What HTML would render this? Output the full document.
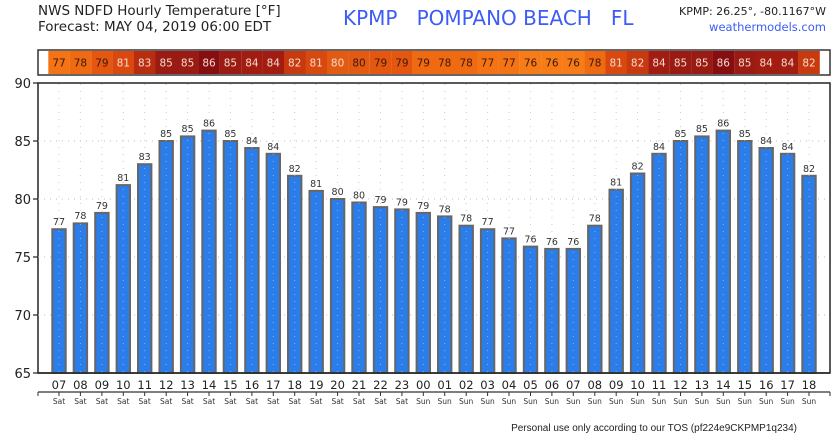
<!DOCTYPE html>
<html><head><meta charset="utf-8"><style>
html,body{margin:0;padding:0;background:#fff;}
svg{display:block;font-family:"DejaVu Sans","Liberation Sans",sans-serif;}
</style></head><body>
<svg width="838" height="436" viewBox="0 0 838 436" xmlns="http://www.w3.org/2000/svg">
<text x="38" y="15" font-size="13.5" fill="#222">NWS NDFD Hourly Temperature [°F]</text>
<text x="38" y="31" font-size="13.5" fill="#222">Forecast: MAY 04, 2019 06:00 EDT</text>
<text x="343" y="25" font-size="20" fill="#3d5cf5" xml:space="preserve">KPMP   POMPANO BEACH   FL</text>
<text x="826" y="15" font-size="11" fill="#222" text-anchor="end">KPMP: 26.25°, -80.1167°W</text>
<text x="826" y="31" font-size="11.5" fill="#3d5cf5" text-anchor="end">weathermodels.com</text>

<rect x="38" y="50" width="792" height="25" fill="#fff" stroke="#333" stroke-width="1.5"/>
<g font-size="10.5" text-anchor="middle">
<g id="cells">
<rect x="48.3" y="51" width="21.5" height="23" fill="#f47315"/>
<rect x="69.7" y="51" width="21.5" height="23" fill="#f06a12"/>
<rect x="91.2" y="51" width="21.5" height="23" fill="#e5560f"/>
<rect x="112.6" y="51" width="21.5" height="23" fill="#d9480f"/>
<rect x="134.0" y="51" width="21.5" height="23" fill="#b82c10"/>
<rect x="155.5" y="51" width="21.5" height="23" fill="#9a1a14"/>
<rect x="176.9" y="51" width="21.5" height="23" fill="#9a1a14"/>
<rect x="198.3" y="51" width="21.5" height="23" fill="#860d10"/>
<rect x="219.7" y="51" width="21.5" height="23" fill="#9a1a14"/>
<rect x="241.2" y="51" width="21.5" height="23" fill="#a31c12"/>
<rect x="262.6" y="51" width="21.5" height="23" fill="#a31c12"/>
<rect x="284.0" y="51" width="21.5" height="23" fill="#c8390f"/>
<rect x="305.5" y="51" width="21.5" height="23" fill="#d9480f"/>
<rect x="326.9" y="51" width="21.5" height="23" fill="#e35a12"/>
<rect x="348.3" y="51" width="21.5" height="23" fill="#e35a12"/>
<rect x="369.8" y="51" width="21.5" height="23" fill="#e5560f"/>
<rect x="391.2" y="51" width="21.5" height="23" fill="#e5560f"/>
<rect x="412.6" y="51" width="21.5" height="23" fill="#f06a12"/>
<rect x="434.0" y="51" width="21.5" height="23" fill="#f06a12"/>
<rect x="455.5" y="51" width="21.5" height="23" fill="#f06a12"/>
<rect x="476.9" y="51" width="21.5" height="23" fill="#f47315"/>
<rect x="498.3" y="51" width="21.5" height="23" fill="#f47315"/>
<rect x="519.8" y="51" width="21.5" height="23" fill="#f77b16"/>
<rect x="541.2" y="51" width="21.5" height="23" fill="#f77b16"/>
<rect x="562.6" y="51" width="21.5" height="23" fill="#f77b16"/>
<rect x="584.1" y="51" width="21.5" height="23" fill="#f06a12"/>
<rect x="605.5" y="51" width="21.5" height="23" fill="#d9480f"/>
<rect x="626.9" y="51" width="21.5" height="23" fill="#c8390f"/>
<rect x="648.3" y="51" width="21.5" height="23" fill="#a31c12"/>
<rect x="669.8" y="51" width="21.5" height="23" fill="#9a1a14"/>
<rect x="691.2" y="51" width="21.5" height="23" fill="#9a1a14"/>
<rect x="712.6" y="51" width="21.5" height="23" fill="#860d10"/>
<rect x="734.1" y="51" width="21.5" height="23" fill="#9a1a14"/>
<rect x="755.5" y="51" width="21.5" height="23" fill="#a31c12"/>
<rect x="776.9" y="51" width="21.5" height="23" fill="#a31c12"/>
<rect x="798.3" y="51" width="21.5" height="23" fill="#c8390f"/>
</g>
<g fill="#3a1a0a">
<text x="59.0" y="66.5">77</text><text x="80.4" y="66.5">78</text><text x="101.9" y="66.5">79</text>
<text x="337.6" y="66.5" fill="#f4dccc">80</text><text x="359.0" y="66.5">80</text><text x="380.5" y="66.5">79</text><text x="401.9" y="66.5">79</text>
<text x="423.3" y="66.5">79</text><text x="444.7" y="66.5">78</text><text x="466.2" y="66.5">78</text><text x="487.6" y="66.5">77</text>
<text x="509.0" y="66.5">77</text><text x="530.5" y="66.5">76</text><text x="551.9" y="66.5">76</text><text x="573.3" y="66.5">76</text><text x="594.8" y="66.5">78</text>
</g>
<g fill="#f4dccc">
<text x="123.3" y="66.5">81</text><text x="144.7" y="66.5">83</text><text x="166.2" y="66.5">85</text><text x="187.6" y="66.5">85</text>
<text x="209.0" y="66.5">86</text><text x="230.4" y="66.5">85</text><text x="251.9" y="66.5">84</text><text x="273.3" y="66.5">84</text>
<text x="294.7" y="66.5">82</text><text x="316.2" y="66.5">81</text>
<text x="616.2" y="66.5">81</text><text x="637.6" y="66.5">82</text><text x="659.0" y="66.5">84</text><text x="680.5" y="66.5">85</text>
<text x="701.9" y="66.5">85</text><text x="723.3" y="66.5">86</text><text x="744.8" y="66.5">85</text><text x="766.2" y="66.5">84</text>
<text x="787.6" y="66.5">84</text><text x="809.0" y="66.5">82</text>
</g>
</g>

<!-- plot -->
<rect x="38" y="83" width="792" height="290" fill="#fff" stroke="#222" stroke-width="1.5"/>
<g stroke="#bbb" stroke-width="1" stroke-dasharray="1,5">
<line x1="38" x2="830" y1="141" y2="141"/><line x1="38" x2="830" y1="199" y2="199"/>
<line x1="38" x2="830" y1="257" y2="257"/><line x1="38" x2="830" y1="315" y2="315"/>
</g>
<g stroke="#ccc" stroke-width="1" stroke-dasharray="1,6">
<path d="M59,84V372M80.4,84V372M101.9,84V372M123.3,84V372M144.7,84V372M166.2,84V372M187.6,84V372M209,84V372M230.4,84V372M251.9,84V372M273.3,84V372M294.7,84V372M316.2,84V372M337.6,84V372M359,84V372M380.5,84V372M401.9,84V372M423.3,84V372M444.7,84V372M466.2,84V372M487.6,84V372M509,84V372M530.5,84V372M551.9,84V372M573.3,84V372M594.8,84V372M616.2,84V372M637.6,84V372M659,84V372M680.5,84V372M701.9,84V372M723.3,84V372M744.8,84V372M766.2,84V372M787.6,84V372M809,84V372"/>
</g>
<g fill="#2b7de9" stroke="#666" stroke-width="2">
<rect x="52.3" y="229.2" width="13.4" height="143.8"/>
<rect x="73.7" y="223.4" width="13.4" height="149.6"/>
<rect x="95.2" y="212.9" width="13.4" height="160.1"/>
<rect x="116.6" y="185.1" width="13.4" height="187.9"/>
<rect x="138.0" y="164.2" width="13.4" height="208.8"/>
<rect x="159.5" y="141.0" width="13.4" height="232.0"/>
<rect x="180.9" y="136.4" width="13.4" height="236.6"/>
<rect x="202.3" y="130.6" width="13.4" height="242.4"/>
<rect x="223.7" y="141.0" width="13.4" height="232.0"/>
<rect x="245.2" y="148.0" width="13.4" height="225.0"/>
<rect x="266.6" y="153.8" width="13.4" height="219.2"/>
<rect x="288.0" y="175.8" width="13.4" height="197.2"/>
<rect x="309.5" y="190.9" width="13.4" height="182.1"/>
<rect x="330.9" y="199.0" width="13.4" height="174.0"/>
<rect x="352.3" y="202.5" width="13.4" height="170.5"/>
<rect x="373.8" y="207.1" width="13.4" height="165.9"/>
<rect x="395.2" y="209.4" width="13.4" height="163.6"/>
<rect x="416.6" y="212.9" width="13.4" height="160.1"/>
<rect x="438.0" y="216.4" width="13.4" height="156.6"/>
<rect x="459.5" y="225.7" width="13.4" height="147.3"/>
<rect x="480.9" y="229.2" width="13.4" height="143.8"/>
<rect x="502.3" y="238.4" width="13.4" height="134.6"/>
<rect x="523.8" y="246.6" width="13.4" height="126.4"/>
<rect x="545.2" y="248.9" width="13.4" height="124.1"/>
<rect x="566.6" y="248.9" width="13.4" height="124.1"/>
<rect x="588.1" y="225.7" width="13.4" height="147.3"/>
<rect x="609.5" y="189.7" width="13.4" height="183.3"/>
<rect x="630.9" y="173.5" width="13.4" height="199.5"/>
<rect x="652.3" y="153.8" width="13.4" height="219.2"/>
<rect x="673.8" y="141.0" width="13.4" height="232.0"/>
<rect x="695.2" y="136.4" width="13.4" height="236.6"/>
<rect x="716.6" y="130.6" width="13.4" height="242.4"/>
<rect x="738.1" y="141.0" width="13.4" height="232.0"/>
<rect x="759.5" y="148.0" width="13.4" height="225.0"/>
<rect x="780.9" y="153.8" width="13.4" height="219.2"/>
<rect x="802.3" y="175.8" width="13.4" height="197.2"/>
</g>
<g stroke="#bfd6f6" stroke-width="1" stroke-dasharray="1,6">
<path d="M59,84V372M80.4,84V372M101.9,84V372M123.3,84V372M144.7,84V372M166.2,84V372M187.6,84V372M209,84V372M230.4,84V372M251.9,84V372M273.3,84V372M294.7,84V372M316.2,84V372M337.6,84V372M359,84V372M380.5,84V372M401.9,84V372M423.3,84V372M444.7,84V372M466.2,84V372M487.6,84V372M509,84V372M530.5,84V372M551.9,84V372M573.3,84V372M594.8,84V372M616.2,84V372M637.6,84V372M659,84V372M680.5,84V372M701.9,84V372M723.3,84V372M744.8,84V372M766.2,84V372M787.6,84V372M809,84V372" opacity="0.6"/>
</g>
<line x1="38" x2="830" y1="373" y2="373" stroke="#222" stroke-width="1.5"/>
<g font-size="9.5" fill="#333" text-anchor="middle">
<text x="59.0" y="225">77</text><text x="80.4" y="219">78</text><text x="101.9" y="209">79</text><text x="123.3" y="181">81</text>
<text x="144.7" y="160">83</text><text x="166.2" y="137">85</text><text x="187.6" y="132">85</text><text x="209.0" y="126.5">86</text>
<text x="230.4" y="137">85</text><text x="251.9" y="144">84</text><text x="273.3" y="150">84</text><text x="294.7" y="172">82</text>
<text x="316.2" y="187">81</text><text x="337.6" y="195">80</text><text x="359.0" y="198.5">80</text><text x="380.5" y="203">79</text>
<text x="401.9" y="205.5">79</text><text x="423.3" y="209">79</text><text x="444.7" y="212.5">78</text><text x="466.2" y="221.5">78</text>
<text x="487.6" y="225">77</text><text x="509.0" y="234.5">77</text><text x="530.5" y="242.5">76</text><text x="551.9" y="245">76</text>
<text x="573.3" y="245">76</text><text x="594.8" y="221.5">78</text><text x="616.2" y="185.5">81</text><text x="637.6" y="169.5">82</text>
<text x="659.0" y="150">84</text><text x="680.5" y="137">85</text><text x="701.9" y="132">85</text><text x="723.3" y="126.5">86</text>
<text x="744.8" y="137">85</text><text x="766.2" y="144">84</text><text x="787.6" y="150">84</text><text x="809.0" y="172">82</text>
</g>
<!-- y axis -->
<g stroke="#222" stroke-width="1.2">
<line x1="33" x2="38" y1="83" y2="83"/><line x1="33" x2="38" y1="141" y2="141"/><line x1="33" x2="38" y1="199" y2="199"/>
<line x1="33" x2="38" y1="257" y2="257"/><line x1="33" x2="38" y1="315" y2="315"/><line x1="33" x2="38" y1="373" y2="373"/>
</g>
<g font-size="13" fill="#222" text-anchor="end">
<text x="31" y="88">90</text><text x="31" y="146">85</text><text x="31" y="204">80</text>
<text x="31" y="262">75</text><text x="31" y="320">70</text><text x="31" y="378">65</text>
</g>
<!-- x axis -->
<line x1="38" x2="830" y1="392" y2="392" stroke="#333" stroke-width="1.2"/>
<g stroke="#333" stroke-width="1">
<path d="M38,392v4M59,392v4M80.4,392v4M101.9,392v4M123.3,392v4M144.7,392v4M166.2,392v4M187.6,392v4M209,392v4M230.4,392v4M251.9,392v4M273.3,392v4M294.7,392v4M316.2,392v4M337.6,392v4M359,392v4M380.5,392v4M401.9,392v4M423.3,392v4M444.7,392v4M466.2,392v4M487.6,392v4M509,392v4M530.5,392v4M551.9,392v4M573.3,392v4M594.8,392v4M616.2,392v4M637.6,392v4M659,392v4M680.5,392v4M701.9,392v4M723.3,392v4M744.8,392v4M766.2,392v4M787.6,392v4M809,392v4M830,392v4"/>
</g>
<g font-size="11.5" fill="#222" text-anchor="middle">
<text x="59.0" y="389">07</text><text x="80.4" y="389">08</text><text x="101.9" y="389">09</text><text x="123.3" y="389">10</text>
<text x="144.7" y="389">11</text><text x="166.2" y="389">12</text><text x="187.6" y="389">13</text><text x="209.0" y="389">14</text>
<text x="230.4" y="389">15</text><text x="251.9" y="389">16</text><text x="273.3" y="389">17</text><text x="294.7" y="389">18</text>
<text x="316.2" y="389">19</text><text x="337.6" y="389">20</text><text x="359.0" y="389">21</text><text x="380.5" y="389">22</text>
<text x="401.9" y="389">23</text><text x="423.3" y="389">00</text><text x="444.7" y="389">01</text><text x="466.2" y="389">02</text>
<text x="487.6" y="389">03</text><text x="509.0" y="389">04</text><text x="530.5" y="389">05</text><text x="551.9" y="389">06</text>
<text x="573.3" y="389">07</text><text x="594.8" y="389">08</text><text x="616.2" y="389">09</text><text x="637.6" y="389">10</text>
<text x="659.0" y="389">11</text><text x="680.5" y="389">12</text><text x="701.9" y="389">13</text><text x="723.3" y="389">14</text>
<text x="744.8" y="389">15</text><text x="766.2" y="389">16</text><text x="787.6" y="389">17</text><text x="809.0" y="389">18</text>
</g>
<g font-size="7.5" fill="#333" text-anchor="middle">
<text x="59.0" y="404">Sat</text><text x="80.4" y="404">Sat</text><text x="101.9" y="404">Sat</text><text x="123.3" y="404">Sat</text>
<text x="144.7" y="404">Sat</text><text x="166.2" y="404">Sat</text><text x="187.6" y="404">Sat</text><text x="209.0" y="404">Sat</text>
<text x="230.4" y="404">Sat</text><text x="251.9" y="404">Sat</text><text x="273.3" y="404">Sat</text><text x="294.7" y="404">Sat</text>
<text x="316.2" y="404">Sat</text><text x="337.6" y="404">Sat</text><text x="359.0" y="404">Sat</text><text x="380.5" y="404">Sat</text>
<text x="401.9" y="404">Sat</text><text x="423.3" y="404">Sun</text><text x="444.7" y="404">Sun</text><text x="466.2" y="404">Sun</text>
<text x="487.6" y="404">Sun</text><text x="509.0" y="404">Sun</text><text x="530.5" y="404">Sun</text><text x="551.9" y="404">Sun</text>
<text x="573.3" y="404">Sun</text><text x="594.8" y="404">Sun</text><text x="616.2" y="404">Sun</text><text x="637.6" y="404">Sun</text>
<text x="659.0" y="404">Sun</text><text x="680.5" y="404">Sun</text><text x="701.9" y="404">Sun</text><text x="723.3" y="404">Sun</text>
<text x="744.8" y="404">Sun</text><text x="766.2" y="404">Sun</text><text x="787.6" y="404">Sun</text><text x="809.0" y="404">Sun</text>
</g>
<text x="797" y="431" font-size="10" fill="#222" text-anchor="end" font-family="Liberation Sans, sans-serif">Personal use only according to our TOS (pf224e9CKPMP1q234)</text>
</svg>
</body></html>
